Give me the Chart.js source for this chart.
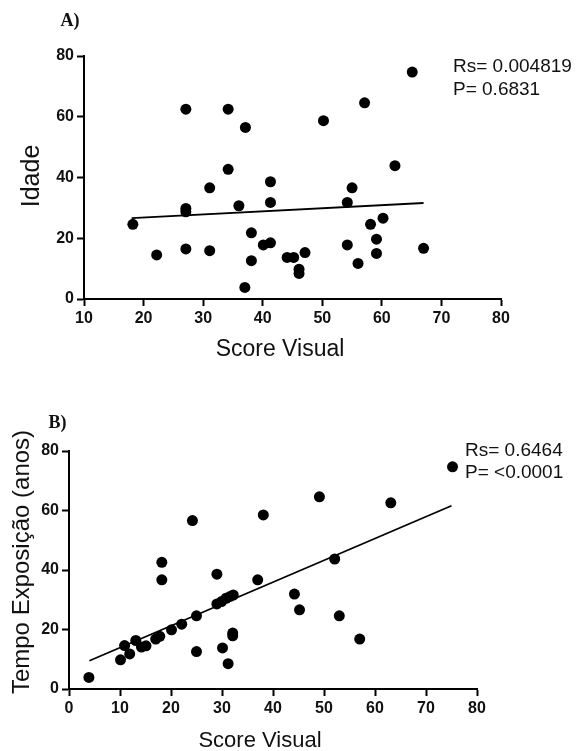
<!DOCTYPE html>
<html>
<head>
<meta charset="utf-8">
<script src="https://cdn.jsdelivr.net/npm/chart.js@4.4.1/dist/chart.umd.min.js"></script>
<style>
  html, body { margin: 0; padding: 0; background: #fff; }
  #wrapA { position: absolute; left: 0; top: 0; width: 577px; height: 375px; }
  #wrapB { position: absolute; left: 0; top: 375px; width: 577px; height: 376px; }
</style>
</head>
<body>
<div id="wrapA"><canvas id="chartA"></canvas></div>
<div id="wrapB"><canvas id="chartB"></canvas></div>
<script>
// A) Idade x Score Visual
const scoreA = [18.2, 22.2, 27.1, 27.1, 27.1, 27.1, 31.1, 31.1, 34.2, 34.2, 36, 37.1, 37, 38.1, 38.1, 40.1, 41.3, 41.3, 41.3, 44.1, 45.2, 46.1, 46.1, 47.1, 50.2, 54.2, 54.2, 55, 56, 57.1, 58.1, 59.1, 59.1, 60.2, 62.2, 65.1, 67];
const idade = [24.6, 14.5, 62.5, 29.8, 28.7, 16.5, 36.6, 15.9, 62.5, 42.7, 30.7, 56.5, 3.8, 21.8, 12.6, 17.8, 18.5, 38.6, 31.8, 13.7, 13.7, 9.8, 8.4, 15.3, 58.7, 31.8, 17.8, 36.6, 11.7, 64.6, 24.6, 19.7, 15, 26.6, 43.9, 74.7, 16.7];
const fitAx = [18, 67];
const fitAy = [26.6, 31.6];
const statsA = ['Rs= 0.004819', 'P= 0.6831'];

// B) Tempo de exposição x Score Visual
const scoreB = [3.9, 10.1, 10.9, 11.9, 13.1, 14.2, 15.1, 17, 17.8, 18.2, 18.2, 20.1, 22.1, 25, 25, 24.2, 29, 29, 29.9, 30.8, 31.6, 32.2, 30.1, 31.2, 32.1, 32.1, 37, 38.1, 44.2, 45.2, 49.1, 52.1, 53, 57, 63.1, 75.2];
const tempo = [3.9, 9.8, 14.6, 11.8, 16.3, 14.1, 14.5, 16.8, 17.7, 42.6, 36.7, 19.9, 21.8, 24.6, 12.6, 56.6, 38.6, 28.6, 29.4, 30.5, 31.1, 31.6, 13.8, 8.5, 18.8, 17.9, 36.7, 58.5, 31.9, 26.6, 64.6, 43.7, 24.6, 16.8, 62.6, 74.7];
const fitBx = [4, 75];
const fitBy = [9.5, 61.6];
const statsB = ['Rs= 0.6464', 'P= <0.0001'];

const toPoints = (xs, ys) => xs.map((x, i) => ({ x: x, y: ys[i] }));

// textos livres (letra do painel, títulos dos eixos, estatística)
const panelText = {
  id: 'panelText',
  afterDraw(chart, args, opts) {
    const ctx = chart.ctx;
    (opts.items || []).forEach(it => {
      ctx.save();
      ctx.font = it.font;
      ctx.fillStyle = '#111';
      ctx.textAlign = it.align || 'center';
      ctx.textBaseline = 'middle';
      ctx.translate(it.x, it.y);
      if (it.rotate) ctx.rotate(it.rotate);
      ctx.fillText(it.text, 0, 0);
      ctx.restore();
    });
  }
};

const tickFont = { family: 'Liberation Sans, Arial, sans-serif', size: 16, weight: 'bold' };

function axis(min, max, step, size) {
  return {
    type: 'linear',
    min: min,
    max: max,
    ticks: { stepSize: step, color: '#111', font: tickFont, padding: 3 },
    grid: { drawOnChartArea: false, drawTicks: true, tickLength: 7, tickWidth: 2, tickColor: '#000' },
    border: { display: true, color: '#000', width: 2 },
    afterFit: s => { if (s.isHorizontal()) s.height = size; else s.width = size; }
  };
}

function makeChart(id, pts, fit, xAxis, yAxis, pad, items) {
  return new Chart(document.getElementById(id), {
    type: 'scatter',
    data: {
      datasets: [
        { data: pts, backgroundColor: '#000', borderWidth: 0, pointRadius: 5.5, clip: false },
        { data: fit, showLine: true, borderColor: '#000', borderWidth: 1.8, pointRadius: 0, fill: false }
      ]
    },
    options: {
      responsive: true,
      maintainAspectRatio: false,
      animation: false,
      layout: { padding: pad },
      scales: { x: xAxis, y: yAxis },
      plugins: {
        legend: { display: false },
        tooltip: { enabled: false },
        panelText: { items: items }
      }
    },
    plugins: [panelText]
  });
}

const sans = 'Liberation Sans, Arial, sans-serif';
const serif = 'Liberation Serif, Times New Roman, serif';

makeChart('chartA', toPoints(scoreA, idade), toPoints(fitAx, fitAy),
  axis(10, 80, 10, 76), axis(0, 80, 20, 84),
  { top: 56, right: 76, left: 0, bottom: 0 },
  [
    { text: 'A)', x: 70, y: 21, font: 'bold 18px ' + serif },
    { text: 'Idade', x: 32, y: 176, font: '25px ' + sans, rotate: -Math.PI / 2 },
    { text: 'Score Visual', x: 280, y: 350, font: '23px ' + sans },
    { text: statsA[0], x: 453, y: 66.5, font: '19px ' + sans, align: 'left' },
    { text: statsA[1], x: 453, y: 89.5, font: '19px ' + sans, align: 'left' }
  ]);

makeChart('chartB', toPoints(scoreB, tempo), toPoints(fitBx, fitBy),
  axis(0, 80, 10, 62), axis(0, 80, 20, 69),
  { top: 76, right: 100, left: 0, bottom: 0 },
  [
    { text: 'B)', x: 57.5, y: 48, font: 'bold 18px ' + serif },
    { text: 'Tempo Exposição (anos)', x: 22, y: 187, font: '24px ' + sans, rotate: -Math.PI / 2 },
    { text: 'Score Visual', x: 260, y: 366, font: '22px ' + sans },
    { text: statsB[0], x: 465, y: 76, font: '19px ' + sans, align: 'left' },
    { text: statsB[1], x: 465, y: 98, font: '19px ' + sans, align: 'left' }
  ]);
</script>
</body>
</html>
